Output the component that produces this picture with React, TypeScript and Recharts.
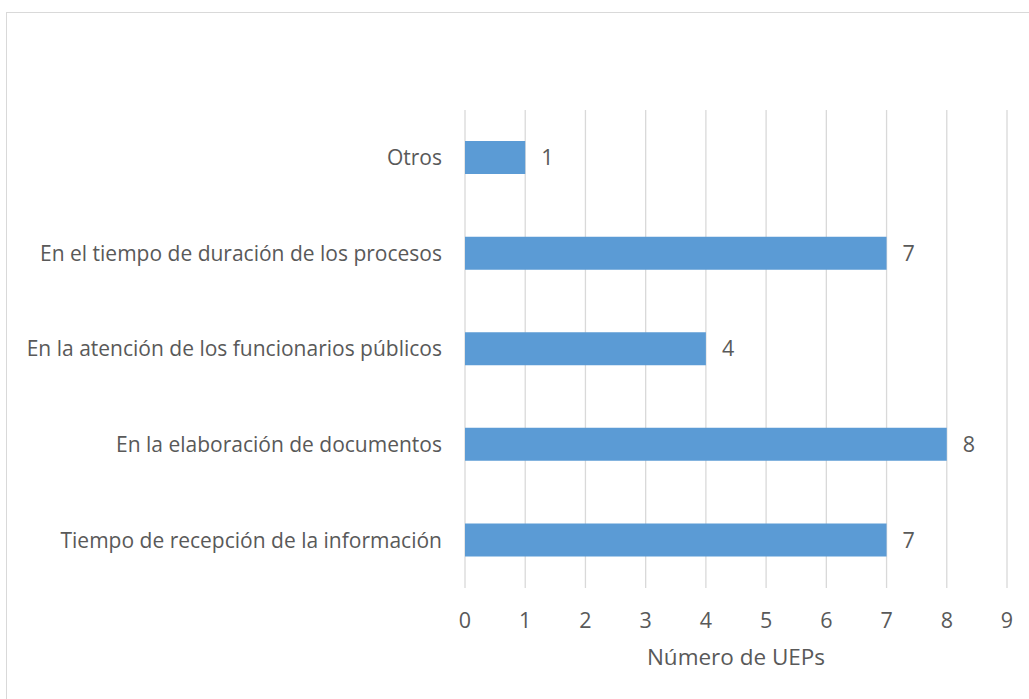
import { Bar, BarChart, CartesianGrid, LabelList, XAxis, YAxis } from "recharts";

const categories = [
  "Otros",
  "En el tiempo de duración de los procesos",
  "En la atención de los funcionarios públicos",
  "En la elaboración de documentos",
  "Tiempo de recepción de la información",
];
const values = [1, 7, 4, 8, 7];
const xTicks = [0, 1, 2, 3, 4, 5, 6, 7, 8, 9];

const data = categories.map((name, i) => ({ name, value: values[i] }));

const TEXT = "#595959";
const FONT = "'Open Sans', sans-serif";

export default function App() {
  return (
    <div style={{ position: "relative", width: 1029, height: 699, background: "#fff", fontFamily: FONT }}>
      <style>{`body{margin:0}`}</style>
      <div
        style={{
          position: "absolute",
          left: 6,
          top: 12,
          width: 1040,
          height: 700,
          border: "1px solid #D9D9D9",
          boxSizing: "border-box",
        }}
      />
      <div style={{ position: "absolute", left: 0, top: 0 }}>
        <BarChart
          width={1029}
          height={699}
          data={data}
          layout="vertical"
          margin={{ top: 110, right: 22, bottom: 0, left: 0 }}
          barCategoryGap="32.5%"
        >
          <CartesianGrid horizontal={false} stroke="#D9D9D9" strokeWidth={1.3} />
          <XAxis
            type="number"
            domain={[0, 9]}
            ticks={xTicks}
            axisLine={false}
            tickLine={false}
            tickSize={0}
            tickMargin={25}
            height={111}
            tick={{ fill: TEXT, fontSize: 21.5, fontFamily: FONT }}
            label={{
              value: "Número de UEPs",
              position: "insideBottom",
              offset: 34,
              fill: TEXT,
              fontSize: 22.5,
              fontFamily: FONT,
            }}
          />
          <YAxis
            type="category"
            dataKey="name"
            width={465}
            axisLine={false}
            tickLine={false}
            tickSize={0}
            tickMargin={23}
            tick={{ fill: TEXT, fontSize: 21, fontFamily: FONT }}
          />
          <Bar dataKey="value" fill="#5B9BD5" isAnimationActive={false}>
            <LabelList
              dataKey="value"
              position="right"
              offset={16}
              fill={TEXT}
              fontSize={21.5}
              fontFamily={FONT}
            />
          </Bar>
        </BarChart>
      </div>
    </div>
  );
}
